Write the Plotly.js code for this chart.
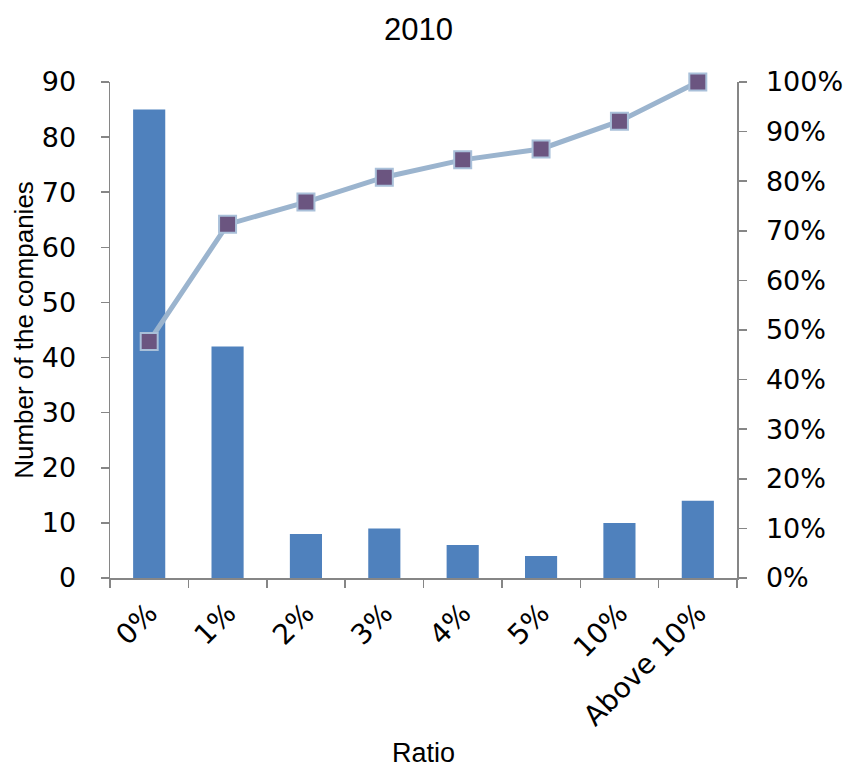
<!DOCTYPE html>
<html>
<head>
<meta charset="utf-8">
<script src="https://cdn.plot.ly/plotly-3.0.1.min.js"></script>
<style>html,body{margin:0;padding:0;background:#fff;}#chart{width:847px;height:768px;}</style>
</head>
<body>
<div id="chart"></div>
<script>
const categories = ["0%", "1%", "2%", "3%", "4%", "5%", "10%", "Above 10%"];
const companyCounts = [85, 42, 8, 9, 6, 4, 10, 14];
const cumulativeShare = [0.477, 0.713, 0.758, 0.808, 0.843, 0.865, 0.921, 1.0];
const leftTicks = [0, 10, 20, 30, 40, 50, 60, 70, 80, 90];
const rightTicks = [0, 0.1, 0.2, 0.3, 0.4, 0.5, 0.6, 0.7, 0.8, 0.9, 1.0];

const tickFont = "DejaVu Sans, Verdana, sans-serif";
const titleFont = "Liberation Sans, Arial, sans-serif";
const axisGray = "#868686";

const traces = [
  {
    type: "bar",
    x: categories,
    y: companyCounts,
    width: 0.41,
    marker: {color: "#4F81BD", line: {width: 0}},
    hoverinfo: "x+y",
    yaxis: "y"
  },
  {
    type: "scatter",
    mode: "lines+markers",
    x: categories,
    y: cumulativeShare,
    yaxis: "y2",
    cliponaxis: false,
    line: {color: "#9BB4CE", width: 5},
    marker: {symbol: "square", size: 17, color: "#6B5580", line: {color: "#A9C0D9", width: 2}}
  }
];

const layout = {
  width: 847,
  height: 768,
  margin: {l: 110, r: 110, t: 82, b: 190},
  paper_bgcolor: "#fff",
  plot_bgcolor: "#fff",
  showlegend: false,
  font: {family: tickFont, color: "#000", size: 26},
  title: {text: "2010", font: {family: titleFont, size: 31, color: "#000"}, x: 0.494, xanchor: "center", y: 0.962, yanchor: "middle"},
  xaxis: {
    type: "category",
    tickson: "boundaries",
    ticks: "outside",
    ticklen: 8,
    tickcolor: axisGray,
    tickwidth: 1.5,
    showline: true,
    linecolor: axisGray,
    linewidth: 1.5,
    showgrid: false,
    tickangle: -45,
    tickfont: {family: tickFont, size: 28},
    ticklabelstandoff: 6,
    title: {text: "Ratio", font: {family: titleFont, size: 27}, standoff: 16},
    range: [-0.5, 7.5]
  },
  yaxis: {
    range: [0, 90],
    tickvals: leftTicks,
    ticks: "outside",
    ticklen: 8,
    tickcolor: axisGray,
    tickwidth: 1.5,
    showline: true,
    linecolor: axisGray,
    linewidth: 1.5,
    showgrid: false,
    zeroline: false,
    tickfont: {family: tickFont, size: 27},
    ticklabelstandoff: 19,
    title: {text: "Number of the companies", font: {family: titleFont, size: 26}, standoff: 0}
  },
  yaxis2: {
    overlaying: "y",
    side: "right",
    range: [0, 1],
    tickvals: rightTicks,
    tickformat: ".0%",
    ticks: "outside",
    ticklen: 8,
    tickcolor: axisGray,
    tickwidth: 1.5,
    showline: true,
    linecolor: axisGray,
    linewidth: 1.5,
    showgrid: false,
    zeroline: false,
    tickfont: {family: tickFont, size: 27},
    ticklabelstandoff: 14
  }
};

Plotly.newPlot("chart", traces, layout, {displayModeBar: false, staticPlot: true});
</script>
</body>
</html>
